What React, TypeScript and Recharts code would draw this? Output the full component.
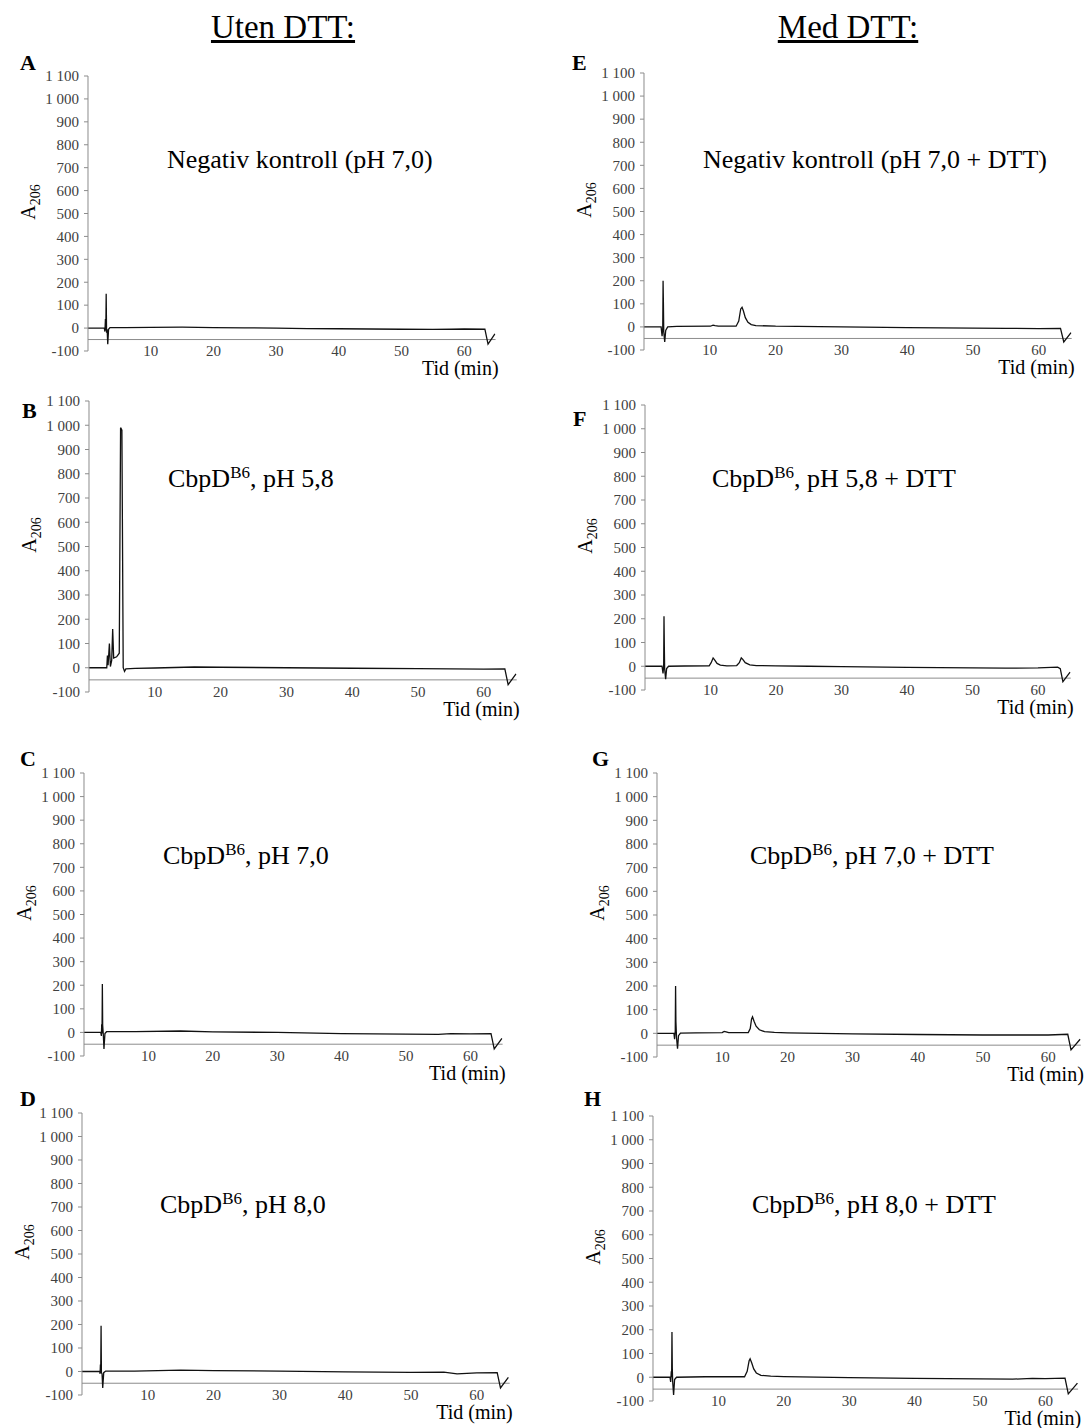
import React from "react";
import { LineChart, Line, XAxis, YAxis, ReferenceLine } from "recharts";

const SERIF = '"Liberation Serif", "Times New Roman", serif';

// x ticks (min) and y ticks (A206)
const X_TICKS = [10, 20, 30, 40, 50, 60];
const Y_TICKS = [-100, 0, 100, 200, 300, 400, 500, 600, 700, 800, 900, 1000, 1100];

// chromatogram traces: [time (min), A206]
const traceA: [number, number][] = [
  [0, 0], [2.6, 0], [2.7, -15], [2.78, 40], [2.84, -10], [2.9, 150], [2.96, -20], [3.05, -5],
  [3.15, -70], [3.28, -5], [3.5, 2], [6, 2], [10, 3], [15, 4], [20, 2], [25, 1], [30, 0],
  [35, -2], [40, -3], [45, -4], [50, -5], [55, -6], [58, -5], [60, -4], [63.3, -5], [63.8, -70], [64.9, -25],
];
const traceB: [number, number][] = [
  [0, 0], [2.7, 0], [2.8, 50], [2.9, 10], [3.1, 100], [3.25, 5], [3.45, 30], [3.6, 160], [3.75, 40],
  [4.2, 45], [4.6, 60], [4.8, 990], [5.0, 980], [5.2, 0], [5.4, -15], [5.6, -5], [7, -3], [10, -1],
  [16, 3], [20, 2], [30, 0], [40, -2], [50, -4], [60, -6], [63.2, -5], [63.7, -70], [64.9, -25],
];
const traceC: [number, number][] = [
  [0, 0], [2.6, 0], [2.7, -15], [2.75, 35], [2.8, -5], [2.85, 205], [2.9, 30], [3.0, -10],
  [3.1, -70], [3.25, -5], [3.5, 3], [8, 3], [15, 6], [20, 2], [30, 0], [40, -5], [50, -7],
  [55, -8], [57, -5], [60, -6], [63.2, -5], [63.7, -70], [64.9, -25],
];
const traceD: [number, number][] = [
  [0, 0], [2.7, 0], [2.75, -10], [2.8, 30], [2.85, 10], [2.9, 195], [2.95, -5], [3.05, -10],
  [3.15, -70], [3.3, -5], [3.6, 2], [8, 2], [15, 6], [20, 4], [30, 2], [40, -2], [50, -4],
  [55, -3], [57, -10], [60, -6], [63.1, -5], [63.6, -70], [64.8, -25],
];
const traceE: [number, number][] = [
  [0, 0], [2.6, 0], [2.75, -40], [2.85, -5], [2.9, 200], [2.95, 100], [3.0, -20], [3.15, -65],
  [3.3, -15], [3.6, 0], [5, 2], [10.1, 3], [10.5, 8], [10.8, 6], [11.3, 3], [14.0, 3], [14.4, 25],
  [14.7, 78], [14.9, 85], [15.1, 70], [15.4, 40], [15.8, 20], [16.3, 10], [17, 6], [20, 3],
  [30, 0], [40, -3], [50, -5], [55, -6], [60, -7], [63.3, -6], [63.8, -65], [64.9, -25],
];
const traceF: [number, number][] = [
  [0, 0], [2.6, 0], [2.75, -30], [2.85, 0], [2.9, 210], [2.95, 80], [3.0, -10], [3.15, -55],
  [3.3, -10], [3.6, 0], [6, 1], [9.8, 2], [10.1, 15], [10.4, 35], [10.6, 28], [11, 12], [11.5, 5],
  [12.5, 2], [14, 3], [14.4, 15], [14.7, 35], [14.9, 30], [15.3, 15], [16, 6], [17, 3], [20, 2],
  [25, 0], [30, -2], [40, -5], [50, -7], [55, -8], [60, -7], [63, -4], [63.4, -10], [63.8, -65], [64.9, -25],
];
const traceG: [number, number][] = [
  [0, 0], [2.6, 0], [2.7, -25], [2.8, 10], [2.85, 200], [2.9, 50], [3.0, -20], [3.15, -65],
  [3.3, -10], [3.6, 1], [6, 2], [10, 3], [10.3, 8], [10.6, 6], [11, 3], [14, 3], [14.3, 20],
  [14.5, 60], [14.65, 70], [14.9, 50], [15.2, 30], [15.7, 15], [16.5, 7], [18, 4], [20, 2],
  [30, -2], [40, -5], [50, -7], [60, -7], [63, -4], [63.5, -70], [64.9, -25],
];
const traceH: [number, number][] = [
  [0, 0], [2.6, 0], [2.7, -20], [2.8, 25], [2.85, 0], [2.9, 190], [2.95, 40], [3.0, -15],
  [3.15, -75], [3.3, -10], [3.6, 0], [8, 2], [14, 2], [14.4, 25], [14.7, 70], [14.85, 78],
  [15.1, 60], [15.4, 35], [15.8, 18], [16.5, 8], [18, 5], [20, 3], [30, -2], [40, -5], [50, -7],
  [55, -8], [58, -5], [60, -6], [63, -4], [63.5, -70], [64.9, -25],
];

// panel placement on the page
const PANELS = [
  { letter: "A", trace: traceA, axisX: 88, topY: 76, botY: 351, ppm: 6.27, name: "Negativ kontroll (pH 7,0)", sup: "", tx: 167, ty: 160, lx: 20, ly: 62 },
  { letter: "B", trace: traceB, axisX: 89, topY: 401, botY: 692, ppm: 6.58, name: "CbpD", sup: ", pH 5,8", tx: 168, ty: 477, lx: 22, ly: 410 },
  { letter: "C", trace: traceC, axisX: 84, topY: 773, botY: 1056, ppm: 6.44, name: "CbpD", sup: ", pH 7,0", tx: 163, ty: 854, lx: 20, ly: 758 },
  { letter: "D", trace: traceD, axisX: 82, topY: 1113, botY: 1395, ppm: 6.58, name: "CbpD", sup: ", pH 8,0", tx: 160, ty: 1203, lx: 20, ly: 1098 },
  { letter: "E", trace: traceE, axisX: 644, topY: 73, botY: 350, ppm: 6.58, name: "Negativ kontroll (pH 7,0 + DTT)", sup: "", tx: 703, ty: 160, lx: 572, ly: 62 },
  { letter: "F", trace: traceF, axisX: 645, topY: 405, botY: 690, ppm: 6.55, name: "CbpD", sup: ", pH 5,8 + DTT", tx: 712, ty: 477, lx: 573, ly: 418 },
  { letter: "G", trace: traceG, axisX: 657, topY: 773, botY: 1057, ppm: 6.52, name: "CbpD", sup: ", pH 7,0 + DTT", tx: 750, ty: 854, lx: 592, ly: 758 },
  { letter: "H", trace: traceH, axisX: 653, topY: 1116, botY: 1401, ppm: 6.54, name: "CbpD", sup: ", pH 8,0 + DTT", tx: 752, ty: 1203, lx: 584, ly: 1098 },
];

const fmt = (v: number) => String(v).replace(/\B(?=(\d{3})+(?!\d))/g, " ");

const XTick = (props: any) => (
  <text x={props.x} y={props.y} dy="0.35em" textAnchor="middle" fill="#404040" fontSize={15} fontFamily={SERIF}>
    {props.payload.value}
  </text>
);

function Panel({ p }: { p: any }) {
  const YW = 70, MT = 10, XH = 24, MR = 12;
  const plotW = 65 * p.ppm;
  const plotH = p.botY - p.topY;
  const data = p.trace.map(([t, v]: [number, number]) => ({ t, v }));
  const abs = (x: number, y: number): React.CSSProperties => ({ position: "absolute", left: x, top: y, fontFamily: SERIF, lineHeight: 1, whiteSpace: "nowrap" });

  return (
    <>
      <div style={{ position: "absolute", left: p.axisX - YW, top: p.topY - MT }}>
        <LineChart width={YW + plotW + MR} height={MT + plotH + XH} data={data} margin={{ top: MT, right: MR, bottom: 0, left: 0 }}>
          <XAxis dataKey="t" type="number" domain={[0, 65]} ticks={X_TICKS} interval={0} axisLine={false} tickLine={false} tickSize={0} tickMargin={0} height={XH} tick={XTick} allowDataOverflow />
          <YAxis type="number" domain={[-100, 1100]} ticks={Y_TICKS} interval={0} width={YW} tickSize={4} tickMargin={5} tickFormatter={fmt}
            axisLine={{ stroke: "#8c8c8c" }} tickLine={{ stroke: "#8c8c8c" }} tick={{ fill: "#404040", fontSize: 15, fontFamily: SERIF }} />
          <ReferenceLine y={-50} stroke="#8c8c8c" strokeWidth={1} />
          <Line dataKey="v" type="linear" stroke="#111" strokeWidth={1.3} dot={false} isAnimationActive={false} />
        </LineChart>
      </div>
      <div style={{ ...abs(p.lx, p.ly - 10), fontSize: 22, fontWeight: "bold" }}>{p.letter}</div>
      <div style={{ ...abs(p.tx, p.ty - 13), fontSize: 26 }}>
        {p.sup ? (<>{p.name}<sup style={{ fontSize: 17, verticalAlign: "0.5em" }}>B6</sup>{p.sup}</>) : p.name}
      </div>
      <div style={{ ...abs(p.axisX - 58, (p.topY + p.botY) / 2 - 12), fontSize: 20, transform: "translate(-50%, -50%) rotate(-90deg)" }}>
        A<sub style={{ fontSize: 14 }}>206</sub>
      </div>
      <div style={{ ...abs(p.axisX + plotW + 3, p.botY + 7), fontSize: 20, transform: "translateX(-100%)" }}>Tid (min)</div>
    </>
  );
}

export default function App() {
  const head: React.CSSProperties = { position: "absolute", top: 11, fontFamily: SERIF, fontSize: 33, textDecoration: "underline", lineHeight: 1, whiteSpace: "nowrap", transform: "translateX(-50%)" };
  return (
    <div style={{ position: "absolute", left: 0, top: 0, width: 1088, height: 1428, background: "#fff", overflow: "hidden" }}>
      <div style={{ ...head, left: 283 }}>Uten DTT:</div>
      <div style={{ ...head, left: 848 }}>Med DTT:</div>
      {PANELS.map((p) => (
        <Panel key={p.letter} p={p} />
      ))}
    </div>
  );
}
